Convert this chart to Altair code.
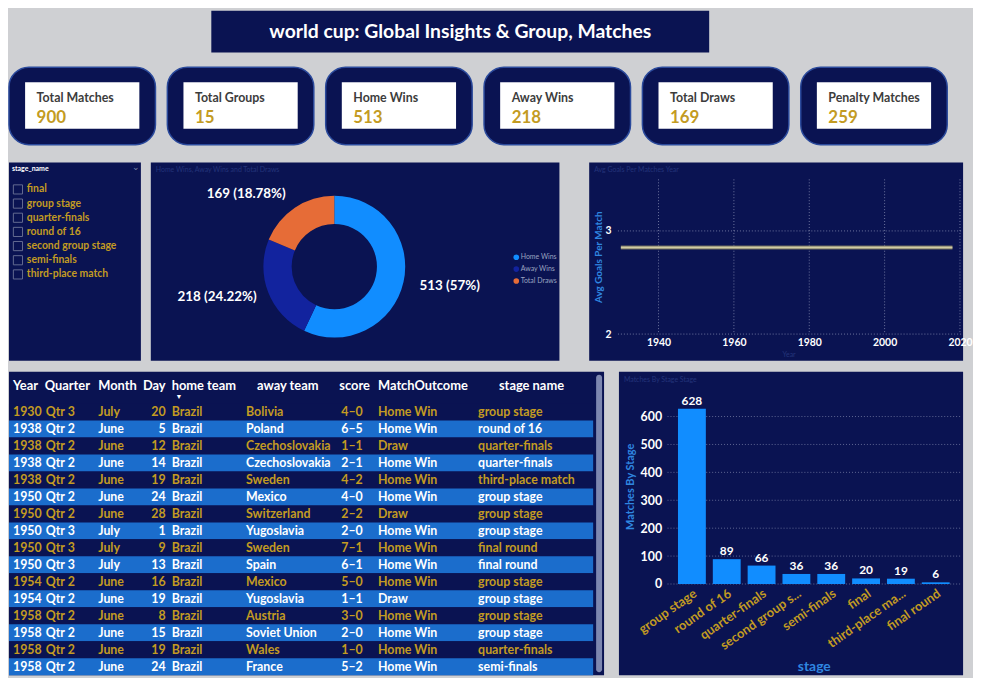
import altair as alt
import pandas as pd

# ---------------- data ----------------
dashboard_title = "world cup: Global Insights & Group, Matches"

kpi_names = ["Total Matches", "Total Groups", "Home Wins", "Away Wins", "Total Draws", "Penalty Matches"]
kpi_values = [900, 15, 513, 218, 169, 259]

outcome_names = ["Home Wins", "Away Wins", "Total Draws"]
outcome_counts = [513, 218, 169]
outcome_labels = ["513 (57%)", "218 (24.22%)", "169 (18.78%)"]

slicer_title = "stage_name"
slicer_items = ["final", "group stage", "quarter-finals", "round of 16",
                "second group stage", "semi-finals", "third-place match"]

goal_years = [1930, 1934, 1938, 1950, 1954, 1958, 1962, 1966, 1970, 1974, 1978,
              1982, 1986, 1990, 1994, 1998, 2002, 2006, 2010, 2014, 2018]
avg_goals = [2.84, 2.84, 2.84, 2.84, 2.84, 2.84, 2.84, 2.84, 2.84, 2.84, 2.84,
             2.84, 2.84, 2.84, 2.84, 2.84, 2.84, 2.84, 2.84, 2.84, 2.84]
year_ticks = [1940, 1960, 1980, 2000, 2020]
goal_ticks = [2, 3]

stage_names = ["group stage", "round of 16", "quarter-finals", "second group stage",
               "semi-finals", "final", "third-place match", "final round"]
stage_matches = [628, 89, 66, 36, 36, 20, 19, 6]
stage_ticks = [0, 100, 200, 300, 400, 500, 600]

table_headers = ["Year", "Quarter", "Month", "Day", "home team", "away team",
                 "score", "MatchOutcome", "stage name"]
tbl_year = [1930, 1938, 1938, 1938, 1938, 1950, 1950, 1950, 1950, 1950, 1954, 1954, 1958, 1958, 1958, 1958]
tbl_quarter = ["Qtr 3", "Qtr 2", "Qtr 2", "Qtr 2", "Qtr 2", "Qtr 2", "Qtr 2", "Qtr 3",
               "Qtr 3", "Qtr 3", "Qtr 2", "Qtr 2", "Qtr 2", "Qtr 2", "Qtr 2", "Qtr 2"]
tbl_month = ["July", "June", "June", "June", "June", "June", "June", "July",
             "July", "July", "June", "June", "June", "June", "June", "June"]
tbl_day = [20, 5, 12, 14, 19, 24, 28, 1, 9, 13, 16, 19, 8, 15, 19, 24]
tbl_home = ["Brazil"] * 16
tbl_away = ["Bolivia", "Poland", "Czechoslovakia", "Czechoslovakia", "Sweden", "Mexico",
            "Switzerland", "Yugoslavia", "Sweden", "Spain", "Mexico", "Yugoslavia",
            "Austria", "Soviet Union", "Wales", "France"]
tbl_score = ["4–0", "6–5", "1–1", "2–1", "4–2", "4–0", "2–2", "2–0",
             "7–1", "6–1", "5–0", "1–1", "3–0", "2–0", "1–0", "5–2"]
tbl_outcome = ["Home Win", "Home Win", "Draw", "Home Win", "Home Win", "Home Win", "Draw", "Home Win",
               "Home Win", "Home Win", "Home Win", "Draw", "Home Win", "Home Win", "Home Win", "Home Win"]
tbl_stage = ["group stage", "round of 16", "quarter-finals", "quarter-finals", "third-place match",
             "group stage", "group stage", "group stage", "final round", "final round",
             "group stage", "group stage", "group stage", "group stage", "quarter-finals", "semi-finals"]

donut_title = "Home Wins, Away Wins and Total Draws"
line_title = "Avg Goals Per Matches Year"
bar_title = "Matches By Stage Stage"

# ---------------- styles ----------------
NAVY = "#0a1352"
GREY = "#cfd0d3"
GOLD = "#c39b22"
BLUE = "#118dff"
DARKBLUE = "#12239e"
ORANGE = "#e66c37"
ROWBLUE = "#1b6dcc"
FAINT = "#24347a"
AXISBLUE = "#2f86e0"
GRIDC = "#9aa0c0"
FONT = "Lato"
TOP = 17  # panel header band above each view origin

one = pd.DataFrame({"k": [0]})


def panel_bg(x1, x2, y1, y2):
    return alt.Chart(one).mark_rect(fill=NAVY).encode(
        x=alt.value(x1), x2=alt.value(x2), y=alt.value(y1), y2=alt.value(y2))


def label_text(txt, x, y, size, color, weight="normal", align="left"):
    return alt.Chart(pd.DataFrame({"t": [txt]})).mark_text(
        align=align, baseline="middle", fontSize=size, fontWeight=weight, color=color
    ).encode(x=alt.value(x), y=alt.value(y), text="t:N")


# ---------------- header: title + KPI cards ----------------
title_box = alt.Chart(one).mark_rect(fill=NAVY).encode(
    x=alt.value(204), x2=alt.value(706), y=alt.value(0), y2=alt.value(42))
title_txt = label_text(dashboard_title, 455, 21, 19.5, "white", "bold", "center")

kpi_df = pd.DataFrame({"name": kpi_names, "value": [str(v) for v in kpi_values]})
kx = alt.X("name:N", sort=kpi_names, axis=None,
           scale=alt.Scale(range=[0, 946], paddingInner=0.075, paddingOuter=0))
cards = alt.Chart(kpi_df).mark_bar(cornerRadius=20, fill=NAVY, stroke="#2b4a9c", strokeWidth=1.5).encode(
    x=kx, y=alt.value(57), y2=alt.value(135))
white = alt.Chart(kpi_df).mark_bar(fill="white", width=alt.RelativeBandSize(0.78)).encode(
    x=kx, y=alt.value(72), y2=alt.value(119))
klab = alt.Chart(kpi_df).mark_text(align="left", baseline="middle", dx=-46, fontSize=12.5,
                                   fontWeight="bold", color="#3c3c3c").encode(
    x=kx, y=alt.value(88), text="name:N")
kval = alt.Chart(kpi_df).mark_text(align="left", baseline="middle", dx=-46, fontSize=17,
                                   fontWeight="bold", color=GOLD).encode(
    x=kx, y=alt.value(108), text="value:N")
header = alt.layer(title_box, title_txt, cards, white, klab, kval).properties(width=962, height=142)

# ---------------- slicer ----------------
sl_df = pd.DataFrame({"item": slicer_items})
sy = alt.Y("item:N", sort=slicer_items, axis=None, scale=alt.Scale(type="point", range=[3, 103]))
boxes = alt.Chart(sl_df).mark_point(shape="square", filled=False, size=85, color="#8c92ad",
                                    strokeWidth=1).encode(x=alt.value(9), y=sy)
items = alt.Chart(sl_df).mark_text(align="left", baseline="middle", fontSize=10.5, fontWeight="bold",
                                   color=GOLD).encode(x=alt.value(18), y=sy, text="item:N")
slicer = alt.layer(
    panel_bg(0, 133, -TOP, 183), boxes, items,
    label_text(slicer_title, 3, -10, 7, "white", "bold"),
    label_text("⌄", 124, -12, 9, "#7c84a8"),
).properties(width=133, height=183)

# ---------------- donut ----------------
don_df = pd.DataFrame({"outcome": outcome_names, "count": outcome_counts,
                       "label": outcome_labels, "ord": [0, 1, 2]})
theta = alt.Theta("count:Q", stack=True)
CX, CY = 185, 88
arcs = alt.Chart(don_df).mark_arc(innerRadius=43, outerRadius=71.5).encode(
    theta=theta,
    color=alt.Color("outcome:N", scale=alt.Scale(domain=outcome_names, range=[BLUE, DARKBLUE, ORANGE]),
                    legend=alt.Legend(title=None, orient="none", legendX=508, legendY=245,
                                      labelFontSize=7, labelColor="#9aa3c0", symbolType="circle",
                                      symbolSize=32, rowPadding=4, labelOffset=1, symbolStrokeWidth=0)),
    order=alt.Order("ord:Q"),
    x=alt.value(CX), y=alt.value(CY))


def donut_label(idx, align, radius):
    return alt.Chart(don_df).mark_text(radius=radius, align=align, baseline="middle", fontSize=13.5,
                                       fontWeight="bold", color="white").encode(
        theta=theta, order=alt.Order("ord:Q"),
        text=alt.condition(f"datum.ord == {idx}", alt.Text("label:N"), alt.value("")),
        x=alt.value(CX), y=alt.value(CY))


donut = alt.layer(
    panel_bg(0, 412, -TOP, 183), label_text(donut_title, 5, -9, 7, FAINT), arcs,
    donut_label(0, "left", 88), donut_label(1, "right", 84), donut_label(2, "right", 88)
).properties(width=432, height=183)

# ---------------- line ----------------
line_df = pd.DataFrame({"year": goal_years, "goals": avg_goals})
lscale_x = alt.Scale(domain=[1928.7, 2020.3], nice=False, zero=False)
lscale_y = alt.Scale(domain=[2, 3.5], nice=False, zero=False)
lx_axis = alt.Axis(values=year_ticks, format="d", title="Year", grid=False, domain=False, ticks=False,
                   labelColor="white", labelFontSize=10.5, labelFontWeight="bold", labelPadding=4,
                   titleColor=FAINT, titleFontSize=7, titleFontWeight="normal", titleY=21,
                   titleBaseline="middle", zindex=1)
ly_axis = alt.Axis(values=goal_ticks, format="d", title="Avg Goals Per Match", grid=False, domain=False,
                   ticks=False, labelColor="white", labelFontSize=10.5, labelFontWeight="bold",
                   labelPadding=5, titleColor=AXISBLUE, titleFontSize=10, titleFontWeight="bold",
                   titleX=-18, titleBaseline="middle", zindex=1)
lx = alt.X("year:Q", scale=lscale_x, axis=lx_axis)
ly = alt.Y("goals:Q", scale=lscale_y, axis=ly_axis)
vr = alt.Chart(pd.DataFrame({"tick": year_ticks})).mark_rule(strokeDash=[1, 2], color=GRIDC, opacity=0.7).encode(
    x=alt.X("tick:Q", scale=lscale_x, axis=lx_axis))
hr = alt.Chart(pd.DataFrame({"tick": goal_ticks})).mark_rule(strokeDash=[1, 2], color=GRIDC, opacity=0.7).encode(
    y=alt.Y("tick:Q", scale=lscale_y, axis=ly_axis))
l_out = alt.Chart(line_df).mark_line(color="#6f6d5e", strokeWidth=4).encode(x=lx, y=ly)
l_core = alt.Chart(line_df).mark_line(color="#d2cca4", strokeWidth=2).encode(x=lx, y=ly)
line_chart = alt.layer(
    panel_bg(-27, 350, -TOP, 183), label_text(line_title, -22, -9, 7, FAINT), vr, hr, l_out, l_core
).properties(width=348, height=156)

# ---------------- bar ----------------
bar_df = pd.DataFrame({"stage": stage_names, "matches": stage_matches})
bscale_y = alt.Scale(domain=[0, 700], nice=False)
bx = alt.X("stage:N", sort=stage_names, scale=alt.Scale(paddingInner=0.2, paddingOuter=0.3),
           axis=alt.Axis(title="stage", labelAngle=-35, labelAlign="right", labelBaseline="top",
                         labelExpr="length(datum.label) > 15 ? substring(datum.label, 0, 14) + '...' : datum.label",
                         labelColor=GOLD, labelFontSize=13, labelFontWeight="bold", domain=False, ticks=False,
                         labelPadding=3, titleColor=AXISBLUE, titleFontSize=14, titleFontWeight="bold",
                         titleY=83, titleBaseline="middle", zindex=1))
by_axis = alt.Axis(values=stage_ticks, title="Matches By Stage", grid=False, domain=False, ticks=False,
                   labelColor="white", labelFontSize=12.5, labelFontWeight="bold", labelPadding=6,
                   titleColor=AXISBLUE, titleFontSize=11, titleFontWeight="bold", titleX=-37,
                   titleBaseline="middle", zindex=1)
by = alt.Y("matches:Q", scale=bscale_y, axis=by_axis)
bgrid = alt.Chart(pd.DataFrame({"tick": stage_ticks})).mark_rule(strokeDash=[1, 2], color=GRIDC, opacity=0.6).encode(
    y=alt.Y("tick:Q", scale=bscale_y, axis=by_axis))
bars = alt.Chart(bar_df).mark_bar(color=BLUE).encode(x=bx, y=by)
bvals = alt.Chart(bar_df).mark_text(dy=-8, color="white", fontSize=12, fontWeight="bold").encode(
    x=bx, y=by, text="matches:Q")
bar_chart = alt.layer(
    panel_bg(-49, 298, -TOP, 289), label_text(bar_title, -44, -9, 7, FAINT), bgrid, bars, bvals
).properties(width=295, height=197)

# ---------------- table ----------------
tbl_df = pd.DataFrame({"Year": tbl_year, "Quarter": tbl_quarter, "Month": tbl_month, "Day": tbl_day,
                       "home": tbl_home, "away": tbl_away, "score": tbl_score,
                       "outcome": tbl_outcome, "stage": tbl_stage})
tbl_df["r"] = range(len(tbl_df))
tbl_df["shade"] = tbl_df["r"] % 2
ty = alt.Y("r:O", axis=None, scale=alt.Scale(type="band", range=[15, 289], paddingInner=0, paddingOuter=0))
rows = alt.Chart(tbl_df).mark_rect().encode(
    y=ty, x=alt.value(0), x2=alt.value(589),
    color=alt.condition("datum.shade == 1", alt.value(ROWBLUE), alt.value(NAVY)))
col_fields = ["Year", "Quarter", "Month", "Day", "home", "away", "score", "outcome", "stage"]
col_x = [4, 37, 90, 158, 164, 239, 335, 372, 473]
col_align = ["left", "left", "left", "right", "left", "left", "left", "left", "left"]
cell_layers = []
for f, xx, al in zip(col_fields, col_x, col_align):
    cell_layers.append(
        alt.Chart(tbl_df).mark_text(align=al, baseline="middle", fontSize=12.5, fontWeight="bold").encode(
            x=alt.value(xx), y=ty, text=f"{f}:N",
            color=alt.condition("datum.shade == 1", alt.value("white"), alt.value(GOLD))))
head_x = [4, 36, 90, 135, 164, 250, 333, 372, 494]
head_layers = [label_text(h, xx, -3, 13, "white", "bold") for h, xx in zip(table_headers, head_x)]
scroll = alt.Chart(one).mark_rect(fill="#7d87b0", cornerRadius=3).encode(
    x=alt.value(592), x2=alt.value(598), y=alt.value(-14), y2=alt.value(286))
table = alt.layer(
    panel_bg(0, 600, -TOP, 289), rows, *cell_layers, *head_layers,
    label_text("▼", 168, 8, 7, "white"), scroll
).properties(width=600, height=289)

# ---------------- assemble ----------------
middle = alt.hconcat(slicer, donut, line_chart, spacing=10)
bottom = alt.hconcat(table, bar_chart, spacing=15)
chart = alt.vconcat(header, middle, bottom, spacing=11).properties(background=GREY, padding=0)
chart = chart.configure(font=FONT).configure_view(stroke=None).configure_axis(
    labelFont=FONT, titleFont=FONT).configure_legend(labelFont=FONT)

chart.save("out.html", embed_options={"renderer": "svg", "actions": False})
